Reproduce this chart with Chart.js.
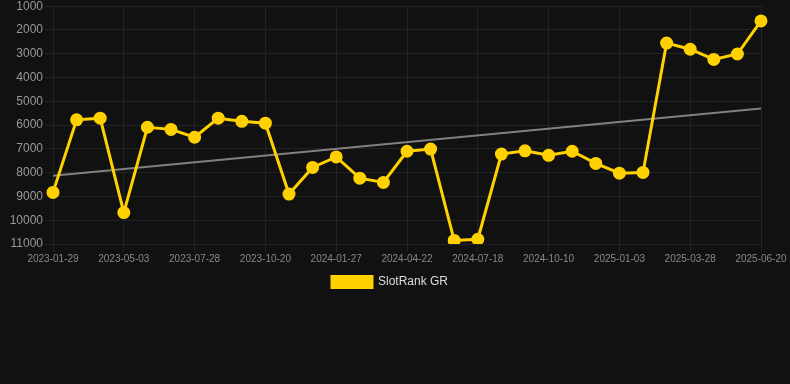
<!DOCTYPE html>
<html>
<head>
<meta charset="utf-8">
<script src="https://cdn.jsdelivr.net/npm/chart.js@4"></script>
<style>
  html, body { margin: 0; padding: 0; background: #111111; overflow: hidden; }
  #wrap { position: relative; top: -3px; width: 790px; height: 301px; }
</style>
</head>
<body>
<div id="wrap"><canvas id="c"></canvas></div>
<script>
const categories = [
  "2023-01-29","2023-03-01","2023-04-02","2023-05-03","2023-06-01","2023-06-29",
  "2023-07-28","2023-08-26","2023-09-23","2023-10-20","2023-11-18","2023-12-21",
  "2024-01-27","2024-02-24","2024-03-23","2024-04-22","2024-05-20","2024-06-18",
  "2024-07-18","2024-08-15","2024-09-12","2024-10-10","2024-11-07","2024-12-05",
  "2025-01-03","2025-01-31","2025-02-28","2025-03-28","2025-04-25","2025-05-23",
  "2025-06-20"
];
const slotRankGR = [
  8830, 5780, 5710, 9680, 6090, 6180, 6510, 5710, 5840, 5920,
  8900, 7780, 7340, 8230, 8410, 7100, 7010, 10850, 10800, 7220,
  7080, 7270, 7100, 7610, 8020, 7990, 2550, 2810, 3240, 3010, 1620
];
const trendEnds = [8130, 5300];
const yTicks = [1000, 2000, 3000, 4000, 5000, 6000, 7000, 8000, 9000, 10000, 11000];

const trendData = categories.map((_, i) =>
  i === 0 ? trendEnds[0] : (i === categories.length - 1 ? trendEnds[1] : null));

const widenYClip = {
  id: 'widenYClip',
  afterLayout(chart) { chart.scales.y.left = 0; }
};

new Chart(document.getElementById('c'), {
  type: 'line',
  data: {
    labels: categories,
    datasets: [
      {
        label: 'SlotRank GR',
        data: slotRankGR,
        borderColor: '#FFD100',
        backgroundColor: '#FFD100',
        borderWidth: 3,
        pointRadius: 5,
        pointHoverRadius: 5,
        pointBackgroundColor: '#FFD100',
        pointBorderColor: '#FFD100',
        tension: 0
      },
      {
        label: 'trend',
        data: trendData,
        borderColor: '#808080',
        borderWidth: 2,
        pointRadius: 0,
        spanGaps: true,
        fill: false
      }
    ]
  },
  plugins: [widenYClip],
  options: {
    responsive: true,
    maintainAspectRatio: false,
    animation: false,
    layout: { padding: { top: 0, right: 29, left: 19, bottom: 0 } },
    plugins: {
      legend: {
        position: 'bottom',
        labels: {
          color: '#dddddd',
          font: { family: 'Liberation Sans, Arial', size: 12 },
          boxWidth: 40,
          boxHeight: 11,
          filter: (item) => item.text !== 'trend'
        }
      },
      tooltip: { enabled: false }
    },
    scales: {
      x: {
        grid: { color: '#222222', tickLength: 8 },
        border: { display: false },
        ticks: {
          color: '#888888',
          font: { family: 'Liberation Sans, Arial', size: 10 },
          maxRotation: 0,
          autoSkip: true,
          padding: 1,
          callback: function (v, i) { return i % 3 === 0 ? categories[i] : null; }
        }
      },
      y: {
        reverse: true,
        min: 1000,
        max: 11000,
        afterBuildTicks: (axis) => { axis.ticks = yTicks.map(v => ({ value: v })); },
        afterFit: (axis) => { axis.width = 34; },
        grid: { color: '#222222', tickLength: 8 },
        border: { display: false },
        ticks: {
          color: '#999999',
          font: { family: 'Liberation Sans, Arial', size: 12 },
          padding: 2,
          callback: (v) => String(v)
        }
      }
    }
  }
});
</script>
</body>
</html>
